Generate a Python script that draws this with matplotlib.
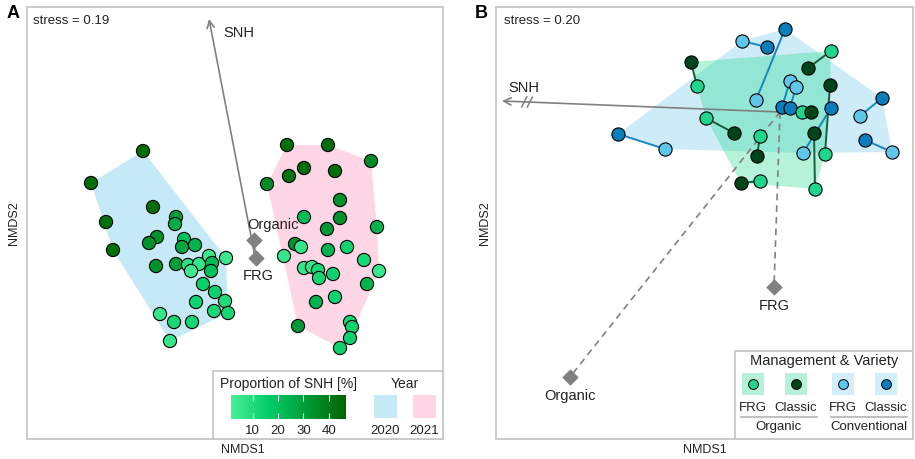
import numpy as np
import matplotlib
matplotlib.use("Agg")
import matplotlib.pyplot as plt
import matplotlib.cm as cm
from matplotlib.colors import LinearSegmentedColormap, Normalize
from matplotlib.patches import Polygon, Rectangle

plt.rcParams['font.family'] = ['Liberation Sans', 'DejaVu Sans']

# ---- panel A: NMDS scores per field, coloured by proportion of SNH ----
a2020_x = [-1.12, -1.64, -1.02, -1.49, -1.42, -0.79, -0.80, -0.98, -1.06, -0.71,
           -0.73, -0.60, -0.99, -0.79, -0.67, -0.56, -0.46, -0.43, -0.29, -0.44,
           -0.64, -0.52, -0.40, -0.59, -0.30, -0.41, -0.27, -0.95, -0.81, -0.63, -0.85]
a2020_y = [1.06, 0.74, 0.50, 0.35, 0.07, 0.40, 0.33, 0.20, 0.14, 0.18,
           0.10, 0.12, -0.09, -0.07, -0.08, -0.07, 0.01, -0.06, -0.01, -0.14,
           -0.14, -0.27, -0.35, -0.45, -0.44, -0.54, -0.56, -0.57, -0.65, -0.65, -0.84]
a2020_snh = [44, 44, 44, 43, 43, 30, 26, 34, 34, 20,
             28, 24, 34, 30, 8, 6, 5, 22, 5, 20,
             4, 15, 14, 14, 10, 12, 12, 6, 12, 12, 6]

a2021_x = [0.32, 0.73, 1.16, 0.49, 0.34, 0.80, 0.12, 0.85, 0.49, 0.85,
           1.22, 0.72, 0.40, 0.46, 0.92, 0.73, 0.29, 1.09, 0.49, 0.57,
           0.63, 0.64, 0.78, 1.24, 1.12, 0.80, 0.61, 0.43, 0.95, 0.97, 0.95, 0.85]
a2021_y = [1.12, 1.12, 0.96, 0.89, 0.81, 0.86, 0.73, 0.57, 0.40, 0.39,
           0.30, 0.28, 0.13, 0.10, 0.10, 0.07, 0.01, -0.03, -0.11, -0.10,
           -0.13, -0.21, -0.17, -0.14, -0.27, -0.40, -0.45, -0.69, -0.65, -0.70, -0.81, -0.91]
a2021_snh = [44, 44, 36, 44, 43, 44, 36, 34, 22, 34,
             24, 32, 34, 6, 14, 24, 6, 12, 6, 6,
             12, 12, 14, 5, 24, 14, 24, 32, 12, 14, 14, 14]

a_snh_arrow = (-0.46, 2.38)
a_centroids = {"Organic": (-0.015, 0.175), "FRG": (0.01, -0.005)}
a_stress = 0.19
snh_limits = (1.5, 46.8)
snh_ticks = [10, 20, 30, 40]
years = ["2020", "2021"]

# ---- panel B: plots paired within a field (FRG vs Classic) ----
conv_frg_x = [-0.38, -0.24, 0.10, 0.16, 0.23, -1.15, 0.80, 1.12]
conv_frg_y = [0.71, 0.12, 0.31, 0.25, -0.41, -0.37, -0.04, -0.40]
conv_cla_x = [-0.13, 0.05, 0.02, 0.10, 0.51, -1.62, 1.02, 0.85]
conv_cla_y = [0.65, 0.83, 0.05, 0.04, 0.04, -0.22, 0.14, -0.28]
org_frg_x = [0.51, -0.83, 0.22, 0.45, 0.35, -0.74, -0.20, -0.20]
org_frg_y = [0.61, 0.26, 0.00, -0.42, -0.77, -0.06, -0.24, -0.69]
org_cla_x = [0.28, -0.89, 0.31, 0.50, 0.34, -0.46, -0.23, -0.39]
org_cla_y = [0.44, 0.50, 0.00, 0.27, -0.21, -0.21, -0.44, -0.71]

b_snh_arrow = (-2.78, 0.11)
b_centroids = {"Organic": (-2.10, -2.65), "FRG": (-0.06, -1.75)}
b_stress = 0.20

# colours
snh_cmap = LinearSegmentedColormap.from_list(
    "snh", ["#4aef97", "#00cc66", "#009a35", "#006400"])
year_fill = ["#c5e9f6", "#ffd6e6"]
col_org_frg = "#1fd68c"
col_org_cla = "#00441b"
col_conv_frg = "#5ec8ec"
col_conv_cla = "#0b7dba"
fill_org = "#1ed88c"
fill_conv = "#cdecf8"
grey = "#808080"
frame = "#c8c8c8"
txt = "#222222"

W, H = 915, 459


def fx(x):
    return x / W


def fy(y):
    return 1 - y / H


def hull(xs, ys):
    # convex hull, monotone chain
    pts = sorted(zip(xs, ys))

    def cross(o, a, b):
        return (a[0] - o[0]) * (b[1] - o[1]) - (a[1] - o[1]) * (b[0] - o[0])

    lower, upper = [], []
    for p in pts:
        while len(lower) >= 2 and cross(lower[-2], lower[-1], p) <= 0:
            lower.pop()
        lower.append(p)
    for p in reversed(pts):
        while len(upper) >= 2 and cross(upper[-2], upper[-1], p) <= 0:
            upper.pop()
        upper.append(p)
    return np.array(lower[:-1] + upper[:-1])


def style_frame(ax):
    ax.set_xticks([])
    ax.set_yticks([])
    for s in ax.spines.values():
        s.set_color(frame)
        s.set_linewidth(1.3)


fig = plt.figure(figsize=(W / 100, H / 100), dpi=100)

# ================= panel A =================
axA = fig.add_axes([fx(27), fy(439), 416 / W, 432 / H])
axA.set_xlim(-2.28, 1.88)
axA.set_ylim(-1.82, 2.50)
style_frame(axA)

for xs, ys, fc in [(a2020_x, a2020_y, year_fill[0]), (a2021_x, a2021_y, year_fill[1])]:
    axA.add_patch(Polygon(hull(xs, ys), closed=True, fc=fc, ec="none", zorder=1))

axA.annotate("", xy=a_snh_arrow, xytext=(0, 0),
             arrowprops=dict(arrowstyle="->", color=grey, lw=1.2,
                             mutation_scale=13, shrinkA=0, shrinkB=0), zorder=2)
axA.text(a_snh_arrow[0] + 0.14, a_snh_arrow[1] - 0.14, "SNH", fontsize=10.5,
         color=txt, ha="left", va="center", zorder=6)

norm = Normalize(*snh_limits)
axA.scatter(a2020_x, a2020_y, c=a2020_snh, cmap=snh_cmap, norm=norm, s=90,
            edgecolors="black", linewidths=0.8, zorder=4)
axA.scatter(a2021_x, a2021_y, c=a2021_snh, cmap=snh_cmap, norm=norm, s=90,
            edgecolors="black", linewidths=0.8, zorder=4)

ox, oy = a_centroids["Organic"]
frx, fry = a_centroids["FRG"]
axA.plot([ox, frx], [oy, fry], color=grey, lw=1.2, zorder=2)
axA.scatter([ox, frx], [oy, fry], marker="D", s=55, color=grey, zorder=5)
axA.text(ox + 0.2, oy + 0.14, "Organic", fontsize=10.5, color=txt,
         ha="center", va="center", zorder=6)
axA.text(frx + 0.02, fry - 0.19, "FRG", fontsize=10.5, color=txt,
         ha="center", va="center", zorder=6)
axA.text(0.014, 0.967, f"stress = {a_stress:.2f}", transform=axA.transAxes,
         fontsize=9.5, color=txt, ha="left", va="center")

fig.text(fx(243), fy(450), "NMDS1", fontsize=9, color=txt, ha="center", va="center")
fig.text(fx(14), fy(223), "NMDS2", fontsize=9, color=txt, ha="center",
         va="center", rotation=90)
fig.text(fx(13), fy(14), "A", fontsize=13, fontweight="bold", color="black",
         ha="center", va="center")

# legend of panel A
legA = fig.add_axes([fx(213), fy(439), (443 - 213) / W, (439 - 371) / H])
legA.set_zorder(5)
legA.set_xlim(213, 443)
legA.set_ylim(439, 371)
legA.axis("off")
legA.add_patch(Rectangle((0, 0), 1, 1, transform=legA.transAxes, fc="white",
                         ec=frame, lw=1.3, clip_on=False))
legA.text(289, 384, "Proportion of SNH [%]", fontsize=10, color=txt,
          ha="center", va="center")
legA.text(405, 384, "Year", fontsize=10, color=txt, ha="center", va="center")
for lab, fc, x0 in zip(years, year_fill, [374, 413]):
    legA.add_patch(Rectangle((x0, 395), 23, 23, fc=fc, ec="none"))
    legA.text(x0 + 11.5, 430.5, lab, fontsize=9.5, color=txt, ha="center", va="center")

cax = fig.add_axes([fx(231), fy(418.5), 115 / W, 23.5 / H])
cax.set_zorder(6)
cb = fig.colorbar(cm.ScalarMappable(norm=norm, cmap=snh_cmap), cax=cax,
                  orientation="horizontal")
cb.outline.set_visible(False)
cb.set_ticks(snh_ticks)
cax.tick_params(axis="x", direction="in", length=4.5, width=0.8, color="white",
                labelsize=9.5, labelcolor=txt, pad=4.5, top=True)

# ================= panel B =================
axB = fig.add_axes([fx(496), fy(439), 417 / W, 432 / H])
axB.set_xlim(-2.84, 1.33)
axB.set_ylim(-3.27, 1.05)
style_frame(axB)

conv_x = conv_frg_x + conv_cla_x
conv_y = conv_frg_y + conv_cla_y
org_x = org_frg_x + org_cla_x
org_y = org_frg_y + org_cla_y
axB.add_patch(Polygon(hull(conv_x, conv_y), closed=True, fc=fill_conv, ec="none", zorder=1))
axB.add_patch(Polygon(hull(org_x, org_y), closed=True, fc=fill_org, alpha=0.33,
                      ec="none", zorder=1.1))

for name, (cx, cy) in b_centroids.items():
    axB.plot([0, cx], [0, cy], color=grey, lw=1.2, ls=(0, (4, 3)), zorder=2)
    axB.scatter([cx], [cy], marker="D", s=55, color=grey, zorder=5)
    axB.text(cx, cy - 0.19, name, fontsize=10.5, color=txt, ha="center",
             va="center", zorder=6)

axB.annotate("", xy=b_snh_arrow, xytext=(0, 0),
             arrowprops=dict(arrowstyle="->", color=grey, lw=1.2,
                             mutation_scale=13, shrinkA=0, shrinkB=0), zorder=2)
# break marks on the truncated SNH arrow
for t in (0.90, 0.92):
    bx, by = b_snh_arrow[0] * t, b_snh_arrow[1] * t
    axB.plot([bx - 0.025, bx + 0.025], [by - 0.05, by + 0.05], color=grey,
             lw=1.1, zorder=2)
axB.text(b_snh_arrow[0] + 0.22, b_snh_arrow[1] + 0.13, "SNH", fontsize=10.5,
         color=txt, ha="center", va="center", zorder=6)

for fxs, fys, cxs, cys, cf, cc, lc in [
        (conv_frg_x, conv_frg_y, conv_cla_x, conv_cla_y, col_conv_frg, col_conv_cla, "#1787c4"),
        (org_frg_x, org_frg_y, org_cla_x, org_cla_y, col_org_frg, col_org_cla, "#15603a")]:
    for x1, y1, x2, y2 in zip(fxs, fys, cxs, cys):
        axB.plot([x1, x2], [y1, y2], color=lc, lw=1.4, zorder=3)
for xs, ys, c in [(conv_frg_x, conv_frg_y, col_conv_frg), (conv_cla_x, conv_cla_y, col_conv_cla),
                  (org_frg_x, org_frg_y, col_org_frg), (org_cla_x, org_cla_y, col_org_cla)]:
    axB.scatter(xs, ys, s=90, color=c, edgecolors="black", linewidths=0.8, zorder=4)

axB.text(0.019, 0.967, f"stress = {b_stress:.2f}", transform=axB.transAxes,
         fontsize=9.5, color=txt, ha="left", va="center")

fig.text(fx(705), fy(450), "NMDS1", fontsize=9, color=txt, ha="center", va="center")
fig.text(fx(485), fy(223), "NMDS2", fontsize=9, color=txt, ha="center",
         va="center", rotation=90)
fig.text(fx(481), fy(14), "B", fontsize=13, fontweight="bold", color="black",
         ha="center", va="center")

# legend of panel B
legB = fig.add_axes([fx(735), fy(439), (913 - 735) / W, (439 - 351) / H])
legB.set_zorder(5)
legB.set_xlim(735, 913)
legB.set_ylim(439, 351)
legB.axis("off")
legB.add_patch(Rectangle((0, 0), 1, 1, transform=legB.transAxes, fc="white",
                         ec=frame, lw=1.3, clip_on=False))
legB.text(824, 361, "Management & Variety", fontsize=10.5, color=txt,
          ha="center", va="center")
entries = [("FRG", col_org_frg, "#b6f0d9"), ("Classic", col_org_cla, "#b6f0d9"),
           ("FRG", col_conv_frg, "#d3eef9"), ("Classic", col_conv_cla, "#d3eef9")]
for (lab, c, bg), xc in zip(entries, [752.5, 796, 843.3, 886]):
    legB.add_patch(Rectangle((xc - 11, 373), 22, 22, fc=bg, ec="none"))
    legB.scatter([xc], [384], s=50, color=c, edgecolors="black", linewidths=0.7)
    legB.text(xc, 408, lab, fontsize=9.5, color=txt, ha="center", va="center")
for (x0, x1), lab in zip([(741, 817), (831, 907)], ["Organic", "Conventional"]):
    legB.plot([x0, x1], [417, 417], color="#b5b5b5", lw=1.2)
    legB.text((x0 + x1) / 2, 427, lab, fontsize=9.5, color=txt, ha="center", va="center")

fig.savefig("out.png", dpi=100)
